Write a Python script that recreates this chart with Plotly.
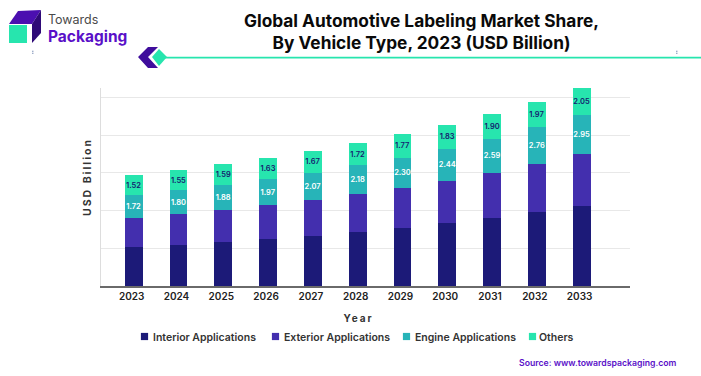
import plotly.graph_objects as go

W, H = 701, 376
years = ["2023","2024","2025","2026","2027","2028","2029","2030","2031","2032","2033"]
interior = [2.99,3.14,3.37,3.60,3.83,4.13,4.43,4.77,5.17,5.63,6.11]
exterior = [2.18,2.33,2.43,2.56,2.71,2.87,3.04,3.24,3.45,3.67,3.95]
engine = [1.72,1.80,1.88,1.97,2.07,2.18,2.30,2.44,2.59,2.76,2.95]
others = [1.52,1.55,1.59,1.63,1.67,1.72,1.77,1.83,1.90,1.97,2.05]

NAVY, VIOLET, TEAL, MINT = "#1c1a78", "#432fae", "#27b4b8", "#27e5ae"
PURPLE = "#5a10c8"
FONT = "Inter"
L, R, T, B = 101, 630, 88, 286

def px(x): return (x - L) / (R - L)
def py(y): return (B - y) / (B - T)
def path(pts): return "M" + " L".join(f"{x},{y}" for x, y in pts) + " Z"

fig = go.Figure()
fig.add_bar(name="Interior Applications", x=years, y=interior, marker_color=NAVY)
fig.add_bar(name="Exterior Applications", x=years, y=exterior, marker_color=VIOLET)
fig.add_bar(name="Engine Applications", x=years, y=engine, marker_color=TEAL,
            text=[f"{v:.2f}" for v in engine], textposition="inside", insidetextanchor="middle",
            textangle=0, constraintext="none", textfont=dict(color="#ffffff", size=7.5, family=FONT, weight=600))
fig.add_bar(name="Others", x=years, y=others, marker_color=MINT,
            text=[f"{v:.2f}" for v in others], textposition="inside", insidetextanchor="middle",
            textangle=0, constraintext="none", textfont=dict(color="#14206e", size=7.5, family=FONT, weight=600))
fig.update_traces(marker_line_width=0, hoverinfo="skip")

def shape(pts, color):
    return dict(type="path", xref="paper", yref="paper", layer="above", line_width=0, fillcolor=color,
                path=path([(px(x), py(y)) for x, y in pts]))

shapes = [
    shape([(9,24),(18,11),(41,10),(32,24)], "#4b0fb0"),
    shape([(32,24),(41,10),(41,33),(32,43)], "#2f0a78"),
    shape([(9,25),(27,25),(27,43),(9,43)], MINT),
    shape([(138,57),(148,47),(158,47),(148,57),(158,68),(148,68)], "#3f0d9c"),
    shape([(159,49),(167,57),(159,66),(152,57)], MINT),
    shape([(165,56.8),(701,56.8),(701,58.4),(165,58.4)], MINT),
    shape([(32,50.7),(33.5,50.7),(33.5,51.7),(32,51.7)], "#7f93b8"),
    shape([(32,52.7),(33.5,52.7),(33.5,53.7),(32,53.7)], "#7f93b8"),
    shape([(676,50.7),(677.5,50.7),(677.5,51.7),(676,51.7)], "#7f93b8"),
    shape([(676,52.7),(677.5,52.7),(677.5,53.7),(676,53.7)], "#7f93b8"),
]

def note(text, x, y, size, color, weight=400, anchor="left"):
    return dict(text=text, xref="paper", yref="paper", x=px(x), y=py(y), xanchor=anchor, yanchor="middle",
                showarrow=False, font=dict(family=FONT, size=size, color=color, weight=weight))

annotations = [
    note("Global Automotive Labeling Market Share,<br>By Vehicle Type, 2023 (USD Billion)", 421, 31.5, 17.3, "#0a0a0a", 700, "center"),
    note("Towards", 46, 19.5, 12.5, "#4a4a4a", 400),
    note("Packaging", 46, 36.5, 15.5, PURPLE, 700),
    note("Source: www.towardspackaging.com", 517, 363, 8.7, PURPLE, 600),
]

fig.update_layout(
    barmode="stack", bargap=0.6, width=W, height=H, autosize=False,
    margin=dict(l=L, r=W-R, t=T, b=H-B, pad=0),
    paper_bgcolor="#ffffff", plot_bgcolor="#ffffff",
    font=dict(family=FONT, color="#222222"),
    shapes=shapes, annotations=annotations,
    legend=dict(orientation="h", xref="container", yref="container", x=113/W, y=1-322/H,
                xanchor="left", yanchor="top",
                font=dict(size=10.5, family=FONT, color="#333333", weight=600),
                traceorder="normal", entrywidth=86, entrywidthmode="pixels",
                itemclick=False, itemdoubleclick=False),
    xaxis=dict(type="category", categoryorder="array", categoryarray=years, range=[-0.73, 11.08],
               showgrid=False, showline=True, linecolor="#6a6a6a", linewidth=2, automargin=False,
               ticks="", ticklabelshift=-2, tickfont=dict(size=10, family=FONT, color="#222222", weight=600),
               title=dict(text="Year", standoff=11, font=dict(size=10, family=FONT, color="#333333", weight=700))),
    yaxis=dict(range=[0, 15.06], dtick=2.867, tick0=0, showticklabels=False, ticks="", automargin=False,
               gridcolor="#e8e8e8", gridwidth=1, zeroline=False,
               showline=True, linecolor="#dddddd", linewidth=1,
               title=dict(text="USD Billion", standoff=6, font=dict(size=10.5, family=FONT, color="#333333", weight=700))),
)

post = """
document.body.style.margin='0';
var s=document.createElement('style');
s.textContent='.xtitle,.ytitle{letter-spacing:2px}'
 +'.ytitle{translate:0 -10px}'
 +'.xtitle{translate:-7px 3px}'
 +'.legend .legendpoints path{transform:translate(31.5px,0) scale(.6)}'
 +'.legend .traces:nth-child(4) .legendpoints path{transform:translate(26.5px,0) scale(.6)}'
 +'.legend .traces:nth-child(4) .legendtext{transform:translateX(-7px)}';
document.head.appendChild(s);
"""
fig.write_html("out.html", post_script=post, config={"displayModeBar": False})
